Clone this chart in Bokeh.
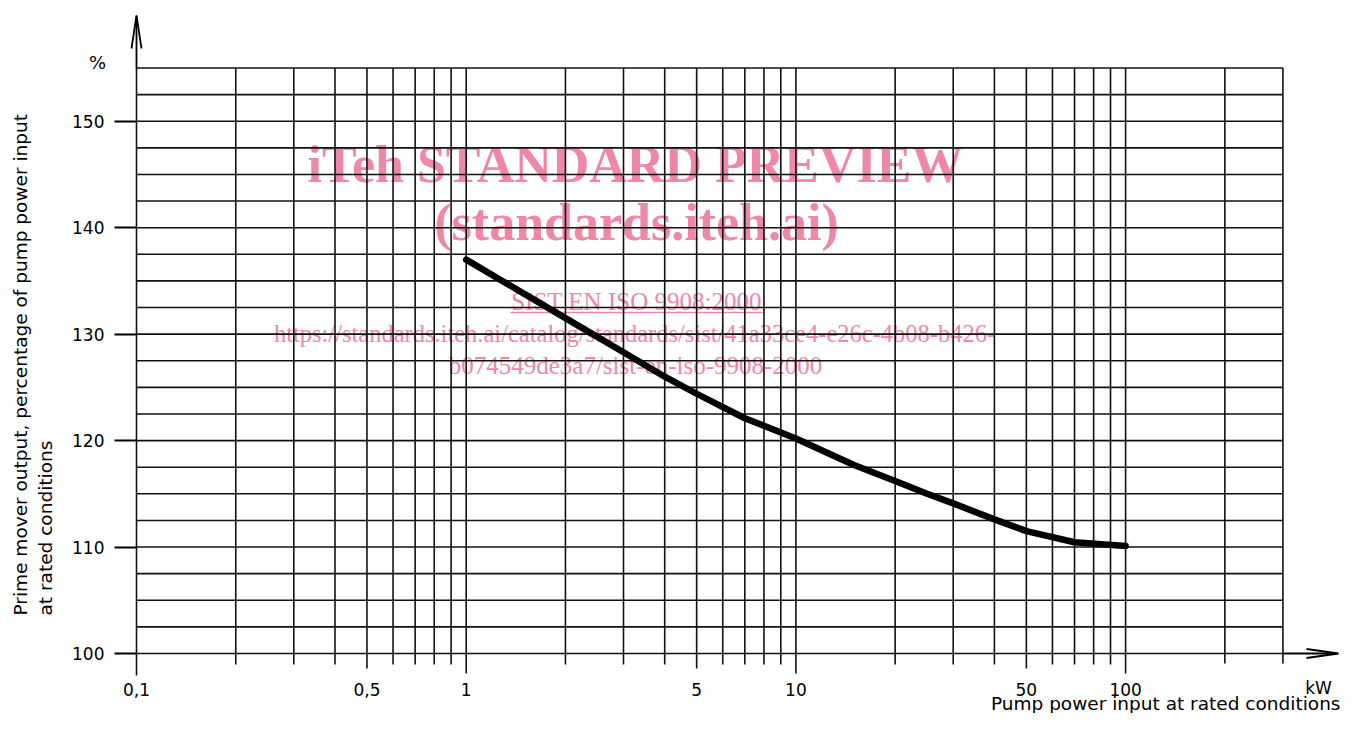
from bokeh.plotting import figure
from bokeh.models import Range1d, FixedTicker, CustomJSTickFormatter
from bokeh.core.properties import value
from bokeh.embed import file_html
from bokeh.resources import INLINE

# ---------------- data ----------------
power_kw = [1, 2, 3, 4, 5, 7, 10, 15, 20, 25, 30, 40, 50, 70, 100]
output_pct = [137.0, 131.5, 128.3, 126.0, 124.4, 122.1, 120.2, 117.7, 116.2,
              115.0, 114.1, 112.6, 111.5, 110.45, 110.1]

x_tick_values = [0.1, 0.5, 1, 5, 10, 50, 100]
y_tick_values = [100, 110, 120, 130, 140, 150]
grid_x = [0.1, 0.2, 0.3, 0.4, 0.5, 0.6, 0.7, 0.8, 0.9,
          1, 2, 3, 4, 5, 6, 7, 8, 9,
          10, 20, 30, 40, 50, 60, 70, 80, 90,
          100, 200, 300]
grid_y = [100 + 2.5 * i for i in range(23)]  # 100 ... 155

x_unit = "kW"
x_title = "Pump power input at rated conditions"
y_unit = "%"
y_title_1 = "Prime mover output, percentage of pump power input"
y_title_2 = "at rated conditions"

wm_1 = "iTeh STANDARD PREVIEW"
wm_2 = "(standards.iteh.ai)"
wm_3 = "SIST EN ISO 9908:2000"
wm_4 = "https://standards.iteh.ai/catalog/standards/sist/41a33ce4-e26c-4b08-b426-"
wm_5 = "b074549de3a7/sist-en-iso-9908-2000"

# ---------------- layout helpers (reference pixel -> data) ----------------
PX_DEC = 329.7     # pixels per decade
PX_UNIT = 10.6455  # pixels per percent


def xd(px):
    return 10 ** (-1 + (px - 136) / PX_DEC)


def yd(py):
    return 100 + (653 - py) / PX_UNIT


W, H = 1342, 713
p = figure(width=W, height=H, x_axis_type="log",
           x_range=Range1d(xd(0), xd(W)), y_range=Range1d(yd(H), yd(0)),
           output_backend="svg", toolbar_location=None, min_border=0)
p.outline_line_color = None
p.xgrid.visible = False
p.ygrid.visible = False
p.background_fill_color = "white"

FONT = value("DejaVu Sans")
SERIF = value("Liberation Serif")
PINK = "#ee88a6"

# ---------------- watermark (behind grid) ----------------
p.text(x=[xd(635)], y=[yd(164)], text=[wm_1], text_font=SERIF, text_font_style="bold",
       text_font_size="52px", text_color=PINK, text_align="center", text_baseline="middle")
p.text(x=[xd(636)], y=[yd(222)], text=[wm_2], text_font=SERIF, text_font_style="bold",
       text_font_size="52px", text_color=PINK, text_align="center", text_baseline="middle")
p.text(x=[xd(636)], y=[yd(301)], text=[wm_3], text_font=SERIF,
       text_font_size="25px", text_color=PINK, text_align="center", text_baseline="middle")
p.line(x=[xd(510), xd(762)], y=[yd(312), yd(312)], line_color=PINK, line_width=1.3)
p.text(x=[xd(634)], y=[yd(333)], text=[wm_4], text_font=SERIF,
       text_font_size="24.5px", text_color=PINK, text_align="center", text_baseline="middle")
p.text(x=[xd(635)], y=[yd(365)], text=[wm_5], text_font=SERIF,
       text_font_size="25px", text_color=PINK, text_align="center", text_baseline="middle")

# ---------------- grid ----------------
def ext_px(v):
    if v >= 200:
        return 10
    if abs(v - 0.1) < 1e-9:
        return 22
    if any(abs(v - d) < 1e-9 for d in (1, 10, 100)):
        return 20
    if any(abs(v - f) < 1e-9 for f in (0.5, 5, 50)):
        return 15
    return 11

vx0 = grid_x
vy0 = [100 - ext_px(v) / PX_UNIT for v in grid_x]
vy1 = [155] * len(grid_x)
p.segment(x0=vx0, y0=vy0, x1=vx0, y1=vy1, line_color="#111111", line_width=1.6)
p.segment(x0=[0.1] * len(grid_y), y0=grid_y, x1=[300] * len(grid_y), y1=grid_y,
          line_color="#111111", line_width=1.6)

# axis arrows
p.line(x=[0.1, 0.1], y=[155, yd(16)], line_color="#000000", line_width=1.8)
p.line(x=[xd(131), xd(136), xd(141)], y=[yd(48), yd(15), yd(48)],
       line_color="#000000", line_width=1.8)
p.line(x=[300, xd(1337)], y=[100, 100], line_color="#000000", line_width=1.8)
p.line(x=[xd(1306), xd(1338), xd(1306)], y=[yd(648.5), yd(653), yd(657.5)],
       line_color="#000000", line_width=1.8)

# ---------------- curve ----------------
p.line(x=power_kw, y=output_pct, line_color="#000000", line_width=6.5,
       line_cap="round", line_join="round")

# ---------------- axes ----------------
xa = p.xaxis[0]
xa.fixed_location = 100
xa.ticker = FixedTicker(ticks=x_tick_values, minor_ticks=[])
xa.formatter = CustomJSTickFormatter(code="return String(tick).replace('.', ',')")
xa.axis_line_color = None
xa.major_tick_out = 0
xa.major_tick_in = 0
xa.minor_tick_out = 0
xa.minor_tick_in = 0
xa.major_label_standoff = 29
xa.major_label_text_font = "DejaVu Sans"
xa.major_label_text_font_size = "17px"
xa.major_label_text_color = "#000000"

ya = p.yaxis[0]
ya.fixed_location = 0.1
ya.ticker = FixedTicker(ticks=y_tick_values, minor_ticks=[])
ya.axis_line_color = None
ya.major_tick_out = 22
ya.major_tick_in = 0
ya.minor_tick_out = 0
ya.minor_tick_in = 0
ya.major_tick_line_width = 1.8
ya.major_tick_line_color = "#000000"
ya.major_label_standoff = 10
ya.major_label_text_font = "DejaVu Sans"
ya.major_label_text_font_size = "17px"
ya.major_label_text_color = "#000000"

# ---------------- texts ----------------
p.text(x=[xd(97)], y=[yd(62)], text=[y_unit], text_font=FONT, text_font_size="18px",
       text_color="#000000", text_align="center", text_baseline="middle")
p.text(x=[xd(1318)], y=[yd(687)], text=[x_unit], text_font=FONT, text_font_size="17px",
       text_color="#000000", text_align="center", text_baseline="middle")
p.text(x=[xd(1340)], y=[yd(703)], text=[x_title], text_font=FONT, text_font_size="18.5px",
       text_color="#000000", text_align="right", text_baseline="middle")
p.text(x=[xd(20)], y=[yd(615)], text=[y_title_1], text_font=FONT, text_font_size="18.5px",
       text_color="#000000", text_align="left", text_baseline="middle", angle=1.5707963)
p.text(x=[xd(45)], y=[yd(615)], text=[y_title_2], text_font=FONT, text_font_size="18.5px",
       text_color="#000000", text_align="left", text_baseline="middle", angle=1.5707963)

open("out.html", "w").write(file_html(p, INLINE))
